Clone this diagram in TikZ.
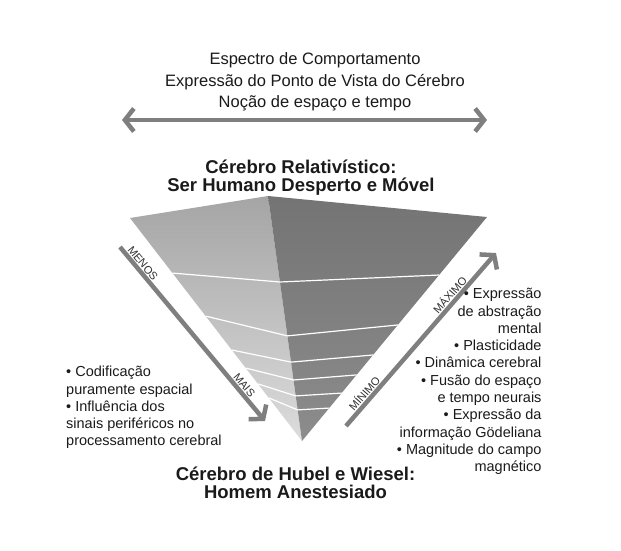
\documentclass[tikz,border=0pt]{standalone}
\usepackage{fontspec}
\setmainfont{Liberation Sans}
\usetikzlibrary{arrows.meta,calc}
\definecolor{arrowgray}{HTML}{7F7F7F}
\definecolor{txt}{HTML}{1A1A1A}
\definecolor{lbl}{HTML}{303030}
\definecolor{lftTop}{HTML}{A5A5A5}
\definecolor{lftMid}{HTML}{B0B0B0}
\definecolor{lftBot}{HTML}{DCDCDC}
\definecolor{rgtTop}{HTML}{747474}
\definecolor{rgtBot}{HTML}{8C8C8C}
\tikzset{
  barb/.tip={Straight Barb[length=9pt,width=23pt,line width=4.5pt]},
  bigarrow/.style={draw=arrowgray,line width=4.5pt},
  bandline/.style={draw=white,line width=1.2pt},
  toptext/.style={font=\fontsize{16.5}{20}\selectfont,text=txt,inner sep=0pt,anchor=base},
  titletext/.style={font=\fontsize{18.5}{22}\selectfont\bfseries,text=txt,inner sep=0pt,anchor=base},
  sidetext/.style={font=\fontsize{14.5}{17}\selectfont,text=txt,inner sep=0pt},
  arrowlabel/.style={font=\fontsize{11}{12}\selectfont,text=lbl,inner sep=0pt,sloped,above=3pt}
}
\begin{document}
\begin{tikzpicture}[x=1pt,y=-1pt]
\useasboundingbox (0,0) rectangle (621,551);
% pyramid corners
\coordinate (L) at (130,218);
\coordinate (T) at (268,196);
\coordinate (R) at (487,217);
\coordinate (B) at (302,441);
\shade[top color=lftTop, middle color=lftMid, bottom color=lftBot] (L) -- (T) -- (B) -- cycle;
\shade[top color=rgtTop, bottom color=rgtBot] (T) -- (R) -- (B) -- cycle;
% band lines
\foreach \a/\b/\c in {0.247/0.351/0.259, 0.44/0.571/0.482, 0.592/0.678/0.616,
                      0.673/0.751/0.705, 0.744/0.816/0.786, 0.807/0.873/0.853}
  \draw[bandline] ($(L)!\a!(B)$) -- ($(T)!\b!(B)$) -- ($(R)!\c!(B)$);
% top text
\node[toptext] (top1) at (315,65) {Espectro de Comportamento};
\node[toptext] (top2) at (315,86) {Expressão do Ponto de Vista do Cérebro};
\node[toptext] (top3) at (315,107) {Noção de espaço e tempo};
% horizontal double arrow
\coordinate (hA) at (122,120);
\coordinate (hB) at (487,120);
\draw[bigarrow,{barb}-{barb}] (hA) -- (hB);
% titles
\node[titletext] (rel1) at (301,173.5) {Cérebro Relativístico:};
\node[titletext] (rel2) at (301,191.5) {Ser Humano Desperto e Móvel};
\node[titletext] (hub1) at (295.5,480) {Cérebro de Hubel e Wiesel:};
\node[titletext] (hub2) at (295.5,498.3) {Homem Anestesiado};
% diagonal arrows
\coordinate (dA) at (120,247);
\coordinate (dB) at (265,421);
\draw[bigarrow,-{barb}] (dA) -- (dB);
\path (dA) -- (dB) node[arrowlabel,pos=0.12] (menos) {MENOS}
                   node[arrowlabel,pos=0.82] (mais) {MAIS};
\coordinate (eA) at (346,426);
\coordinate (eB) at (496,253);
\draw[bigarrow,-{barb}] (eA) -- (eB);
\path (eA) -- (eB) node[arrowlabel,pos=0.16] (minimo) {MÍNIMO}
                   node[arrowlabel,pos=0.73] (maximo) {MÁXIMO};
% left text
\node[sidetext,anchor=base west] (l1) at (66,376.7) {• Codificação};
\node[sidetext,anchor=base west] (l2) at (66,394) {puramente espacial};
\node[sidetext,anchor=base west] (l3) at (66,411.3) {• Influência dos};
\node[sidetext,anchor=base west] (l4) at (66,428.6) {sinais periféricos no};
\node[sidetext,anchor=base west] (l5) at (66,445.9) {processamento cerebral};
% right text
\node[sidetext,anchor=base east] (r1) at (541.7,298.7) {• Expressão};
\node[sidetext,anchor=base east] (r2) at (541.7,316) {de abstração};
\node[sidetext,anchor=base east] (r3) at (541.7,333.3) {mental};
\node[sidetext,anchor=base east] (r4) at (541.7,350.6) {• Plasticidade};
\node[sidetext,anchor=base east] (r5) at (541.7,367.9) {• Dinâmica cerebral};
\node[sidetext,anchor=base east] (r6) at (541.7,385.2) {• Fusão do espaço};
\node[sidetext,anchor=base east] (r7) at (541.7,402.5) {e tempo neurais};
\node[sidetext,anchor=base east] (r8) at (541.7,419.8) {• Expressão da};
\node[sidetext,anchor=base east] (r9) at (541.7,437.1) {informação Gödeliana};
\node[sidetext,anchor=base east] (r10) at (541.7,454.4) {• Magnitude do campo};
\node[sidetext,anchor=base east] (r11) at (541.7,471.7) {magnético};
\end{tikzpicture}
\end{document}
